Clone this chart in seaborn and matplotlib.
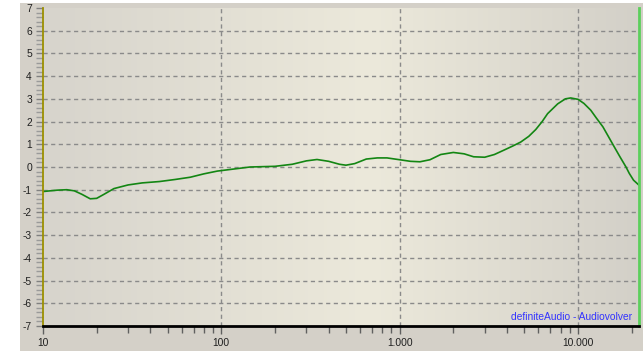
import numpy as np
import pandas as pd
import matplotlib
matplotlib.use("Agg")
import matplotlib.pyplot as plt
import matplotlib.ticker as mticker
from matplotlib.patches import Rectangle
from matplotlib.colors import LinearSegmentedColormap
import seaborn as sns

# Frequency response (Hz, dB)
freq_hz = [10, 12, 13.6, 15, 16.5, 18.4, 20, 22, 25, 30, 36, 45, 55, 67, 80, 95,
           120, 145, 200, 250, 300, 344, 400, 460, 500, 560, 650, 750, 850, 1000,
           1150, 1300, 1480, 1700, 2000, 2300, 2600, 3000, 3400, 3840, 4300, 4780,
           5300, 5800, 6300, 6760, 7700, 8500, 9100, 10000, 10800, 11800, 12700,
           13800, 14800, 16000, 17200, 18600, 19400, 20500, 22000]
gain_db = [-1.08, -1.02, -1.00, -1.05, -1.20, -1.40, -1.38, -1.20, -0.95, -0.79,
           -0.70, -0.64, -0.55, -0.45, -0.30, -0.18, -0.08, 0.00, 0.03, 0.12,
           0.27, 0.33, 0.25, 0.12, 0.08, 0.15, 0.35, 0.40, 0.40, 0.32, 0.25, 0.23,
           0.32, 0.55, 0.64, 0.58, 0.45, 0.43, 0.55, 0.74, 0.92, 1.10, 1.35, 1.65,
           2.00, 2.35, 2.78, 3.00, 3.04, 2.98, 2.80, 2.50, 2.15, 1.77, 1.35, 0.88,
           0.45, 0.00, -0.28, -0.58, -0.80]

x_major = [10, 100, 1000, 10000]
x_labels = ["10", "100", "1.000", "10.000"]
y_major = list(range(-7, 8))
credit = "definiteAudio - Audiovolver"

df = pd.DataFrame({"Frequency": freq_hz, "Gain": gain_db})

sns.set_style("white")
plt.rcParams["font.family"] = ["Liberation Sans", "DejaVu Sans"]

W, H = 643, 351
fig = plt.figure(figsize=(W / 100, H / 100), dpi=100, facecolor="white")
# grey window panel
fig.patches.append(Rectangle((20 / W, 0), 1, (H - 3) / H, transform=fig.transFigure,
                             facecolor="#d4d0c8", edgecolor="none", zorder=-5))

ax = fig.add_axes([43 / W, (H - 326) / H, (639 - 43) / W, (326 - 8) / H])
ax.set_facecolor("none")

# horizontal shading of the plot area
cmap = LinearSegmentedColormap.from_list(
    "panel", [(0.0, "#d7d4cc"), (0.55, "#ece9db"), (1.0, "#d3d0c8")])
grad = np.linspace(0, 1, 256)[None, :]
ax.imshow(grad, cmap=cmap, aspect="auto", extent=[0, 1, 0, 1],
          transform=ax.transAxes, zorder=0, interpolation="bilinear")

sns.lineplot(data=df, x="Frequency", y="Gain", ax=ax, color="#138613",
             linewidth=1.2, zorder=5, sort=False)

ax.set_xscale("log")
ax.set_xlim(10, 22000)
ax.set_ylim(-7, 7)

# grid
for yv in y_major[1:-1]:
    ax.axhline(yv, color="#8a8a8a", lw=1.0, ls=(0, (3, 2.5)), zorder=1)
for xv in x_major[1:]:
    ax.axvline(xv, color="#8a8a8a", lw=1.0, ls=(0, (3, 2.5)), zorder=1)

ax.set_xticks(x_major)
ax.set_xticklabels(x_labels)
ax.xaxis.set_minor_locator(mticker.LogLocator(base=10, subs=np.arange(2, 10), numticks=20))
ax.xaxis.set_minor_formatter(mticker.NullFormatter())
ax.set_yticks(y_major)
ax.set_yticklabels([str(v) for v in y_major])
ax.yaxis.set_minor_locator(mticker.MultipleLocator(0.2))

ax.tick_params(axis="x", which="major", direction="out", length=5.5, width=1,
               color="#606060", labelsize=7.4, pad=3, labelcolor="#202020")
ax.tick_params(axis="x", which="minor", direction="out", length=5, width=1,
               color="#606060")
ax.tick_params(axis="y", which="major", direction="out", length=5, width=1,
               color="#808080", labelsize=7.4, pad=3, labelcolor="#202020")
ax.tick_params(axis="y", which="minor", direction="out", length=5, width=1,
               color="#9a9a9a")
ax.tick_params(left=True, bottom=True, which="both")

ax.set_xlabel("")
ax.set_ylabel("")

for s in ax.spines.values():
    s.set_visible(False)
ax.spines["left"].set_visible(True)
ax.spines["left"].set_color("#9c9000")
ax.spines["left"].set_linewidth(1.3)
ax.spines["bottom"].set_visible(True)
ax.spines["bottom"].set_color("black")
ax.spines["bottom"].set_linewidth(2)
ax.spines["right"].set_visible(True)
ax.spines["right"].set_color("#5ccf5c")
ax.spines["right"].set_linewidth(2)
for s in ax.spines.values():
    s.set_zorder(6)

ax.text(0.988, 0.012, credit, transform=ax.transAxes, ha="right", va="bottom",
        color="#3333ff", fontsize=7.4, zorder=7)

fig.savefig("out.png", dpi=100, facecolor="white")
